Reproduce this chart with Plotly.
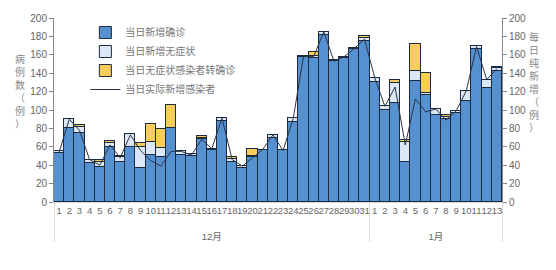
import plotly.graph_objects as go

months = ["12月"] * 31 + ["1月"] * 13
days = [str(i) for i in range(1, 32)] + [str(i) for i in range(1, 14)]

confirmed = [53, 80, 75, 42, 38, 60, 44, 60, 37, 51, 49, 80, 51, 50, 68, 56, 88, 44, 37, 49,
             57, 70, 56, 87, 158, 157, 181, 153, 157, 166, 175,
             130, 100, 108, 44, 132, 116, 95, 90, 97, 110, 166, 124, 142]
asymptomatic = [2, 10, 6, 4, 5, 4, 5, 14, 23, 14, 10, 0, 4, 2, 2, 2, 3, 3, 2, 1,
                0, 3, 0, 4, 1, 2, 4, 1, 1, 1, 3,
                5, 4, 21, 21, 10, 3, 6, 2, 2, 11, 4, 9, 4]
transferred = [0, 0, 3, 0, 3, 2, 1, 0, 4, 20, 20, 25, 0, 0, 2, 0, 0, 2, 0, 8,
               0, 0, 0, 0, 0, 4, 0, 0, 0, 0, 2,
               0, 0, 4, 2, 30, 21, 0, 3, 0, 0, 0, 0, 1]
actual = [54, 90, 78, 46, 40, 62, 48, 73, 56, 45, 39, 55, 55, 51, 68, 58, 91, 46, 39, 48,
          57, 73, 56, 91, 158, 158, 185, 153, 158, 167, 177,
          135, 104, 125, 62, 112, 98, 101, 89, 99, 121, 169, 133, 145]

y_ticks = list(range(0, 201, 20))

# month group labels get a leading break so they sit lower, as in the original
x = [["<br>" + m for m in months], days]
edge = "#1c2a3f"
fig = go.Figure()
fig.add_trace(go.Bar(x=x, y=confirmed, name="当日新增确诊",
                     marker=dict(color="#5590d0", line=dict(color=edge, width=1))))
fig.add_trace(go.Bar(x=x, y=asymptomatic, name="当日新增无症状",
                     marker=dict(color="#dbe7f5", line=dict(color=edge, width=1))))
fig.add_trace(go.Bar(x=x, y=transferred, name="当日无症状感染者转确诊",
                     marker=dict(color="#f8cd5a", line=dict(color=edge, width=1))))
fig.add_trace(go.Scatter(x=x, y=actual, name="当日实际新增感染者", mode="lines",
                         line=dict(color="#2b3445", width=1), yaxis="y2"))

tickfont = dict(size=10, color="#666666")
fig.update_layout(
    width=556, height=270,
    margin=dict(l=54, r=54, t=12, b=68),
    barmode="stack", bargap=0,
    plot_bgcolor="white", paper_bgcolor="white",
    font=dict(family="Liberation Sans, Noto Sans CJK SC", size=10, color="#666666"),
    showlegend=True,
    legend=dict(x=0.07, y=1.0, xanchor="left", yanchor="top", traceorder="normal",
                bgcolor="rgba(0,0,0,0)", font=dict(size=10, color="#777777"),
                tracegroupgap=0),
    xaxis=dict(type="multicategory", showdividers=True, dividercolor="#d9d9d9",
               dividerwidth=1, tickfont=dict(size=9.5, color="#666666"), dtick=1,
               tickangle=0, showline=True, linecolor="#d9d9d9", ticks="",
               showgrid=False),
    yaxis=dict(range=[0, 200], tickvals=y_ticks, tickfont=tickfont, showgrid=False,
               showline=True, linecolor="#888888", ticks="outside", ticklen=4,
               tickcolor="#888888", zeroline=False),
    yaxis2=dict(range=[0, 200], tickvals=y_ticks, tickfont=tickfont, showgrid=False,
                overlaying="y", side="right", showline=True, linecolor="#888888",
                ticks="outside", ticklen=4, tickcolor="#888888", zeroline=False),
    annotations=[
        dict(text="<br>".join("病例数（例）"), xref="paper", yref="paper",
             x=-0.075, y=0.6, xanchor="center", yanchor="middle", showarrow=False,
             font=dict(size=10, color="#888888")),
        dict(text="<br>".join("每日纯新增（例）"), xref="paper", yref="paper",
             x=1.072, y=0.65, xanchor="center", yanchor="middle", showarrow=False,
             font=dict(size=10, color="#888888")),
    ],
)

fig.write_html("out.html")
